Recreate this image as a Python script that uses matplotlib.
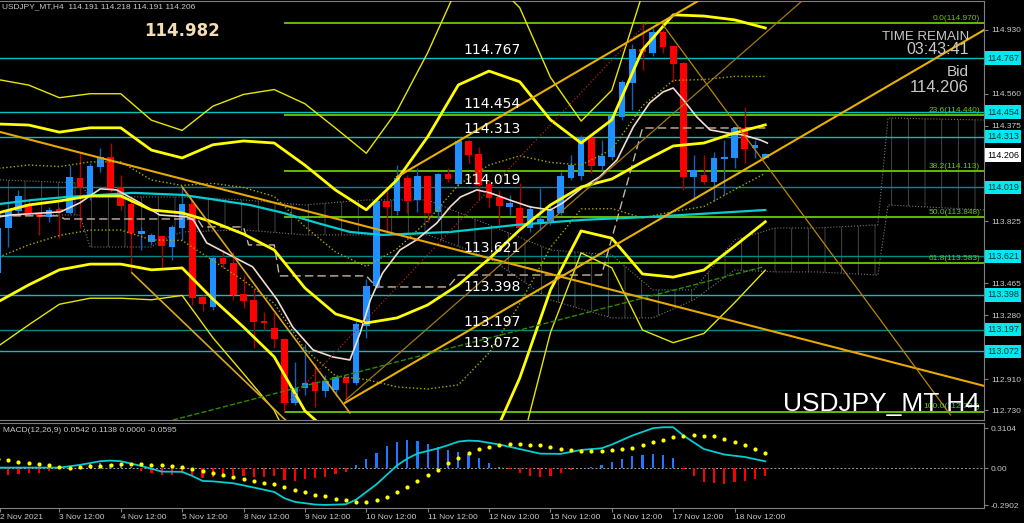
import numpy as np
import matplotlib.pyplot as plt
from matplotlib.transforms import blended_transform_factory

plt.rcParams['font.family'] = ['Liberation Sans', 'DejaVu Sans']
plt.rcParams['hatch.linewidth'] = 0.6

# ---- candles (H4 bars, 2 Nov 12:00 .. 18 Nov) ----
opens = [113.525, 113.785, 113.883, 113.918, 113.866, 113.849, 113.889, 113.872, 114.068, 113.976,
         114.138, 114.190, 114.016, 113.918, 113.750, 113.704, 113.733, 113.675, 113.785, 113.918,
         113.381, 113.329, 113.606, 113.577, 113.398, 113.363, 113.242, 113.201, 113.138, 112.774,
         112.860, 112.889, 112.843, 112.849, 112.918, 112.889, 113.219, 113.450, 113.935, 113.883,
         114.068, 113.947, 114.080, 113.878, 114.091, 114.039, 114.282, 114.207, 114.034, 113.959,
         113.907, 113.895, 113.785, 113.820, 113.826, 113.872, 114.074, 114.086, 114.300, 114.144,
         114.196, 114.427, 114.623, 114.814, 114.797, 114.912, 114.831, 114.733, 114.080, 114.086,
         114.051, 114.184, 114.190, 114.357, 114.248, 114.191]
highs = [113.802, 113.930, 114.005, 113.947, 113.878, 113.907, 113.907, 114.149, 114.219, 114.161,
         114.248, 114.276, 114.091, 113.947, 113.791, 113.756, 113.745, 113.802, 114.016, 113.947,
         113.398, 113.629, 113.658, 113.646, 113.513, 113.433, 113.300, 113.294, 113.149, 113.011,
         113.115, 113.005, 112.935, 112.930, 112.930, 113.253, 113.490, 113.959, 114.016, 114.149,
         114.091, 114.132, 114.091, 114.103, 114.132, 114.294, 114.294, 114.253, 114.063, 114.005,
         113.976, 114.045, 113.918, 114.016, 113.918, 114.109, 114.207, 114.323, 114.311, 114.294,
         114.438, 114.641, 114.849, 114.970, 114.941, 114.930, 114.843, 114.745, 114.207, 114.207,
         114.224, 114.294, 114.369, 114.485, 114.294, 114.218]
lows = [113.513, 113.675, 113.866, 113.860, 113.745, 113.820, 113.727, 113.866, 113.785, 113.947,
        114.109, 113.993, 113.889, 113.525, 113.658, 113.687, 113.554, 113.600, 113.716, 113.340,
        113.305, 113.311, 113.554, 113.369, 113.323, 113.092, 113.196, 113.092, 112.724, 112.762,
        112.820, 112.751, 112.808, 112.814, 112.791, 112.878, 113.149, 113.438, 113.756, 113.860,
        113.872, 113.878, 113.820, 113.831, 114.051, 114.028, 114.161, 113.947, 113.907, 113.802,
        113.860, 113.774, 113.762, 113.774, 113.802, 113.860, 114.063, 114.063, 114.103, 114.120,
        114.178, 114.409, 114.467, 114.698, 114.779, 114.797, 114.629, 114.005, 113.947, 114.039,
        113.941, 113.976, 114.132, 114.161, 114.190, 114.191]
closes = [113.779, 113.878, 113.964, 113.872, 113.849, 113.883, 113.878, 114.074, 114.016, 114.138,
          114.190, 114.011, 113.912, 113.756, 113.762, 113.739, 113.681, 113.785, 113.918, 113.381,
          113.346, 113.606, 113.577, 113.398, 113.363, 113.242, 113.236, 113.144, 112.774, 112.855,
          112.883, 112.843, 112.895, 112.918, 112.889, 113.224, 113.444, 113.935, 113.907, 114.068,
          113.941, 114.080, 113.872, 114.091, 114.068, 114.282, 114.207, 114.034, 113.959, 113.912,
          113.924, 113.785, 113.889, 113.831, 113.883, 114.080, 114.144, 114.300, 114.144, 114.196,
          114.427, 114.623, 114.814, 114.802, 114.912, 114.831, 114.733, 114.080, 114.115, 114.051,
          114.184, 114.190, 114.357, 114.242, 114.259, 114.206]

# ---- bollinger bands (read every 3 bars) ----
bb_x = [0, 3, 6, 9, 12, 15, 18, 21, 24, 27, 30, 33, 36, 39, 42, 45, 48, 51, 54, 57, 60, 63, 66, 69, 72, 75]
bb_mid = [113.872, 113.918, 113.941, 113.970, 113.970, 113.889, 113.872, 113.820, 113.750, 113.658, 113.438, 113.288, 113.236,
          113.265, 113.340, 113.456, 113.606, 113.774, 113.918, 114.022, 114.068, 114.167, 114.259, 114.276, 114.334, 114.381]
bb_up1 = [114.129, 114.149, 114.140, 114.167, 114.167, 114.062, 114.031, 114.043, 114.019, 113.967, 113.793, 113.646, 113.563,
          113.664, 113.826, 114.034, 114.149, 114.202, 114.164, 114.149, 114.239, 114.491, 114.638, 114.643, 114.661, 114.661]
bb_dn1 = [113.615, 113.687, 113.742, 113.773, 113.773, 113.716, 113.713, 113.597, 113.481, 113.349, 113.083, 112.930, 112.909,
          112.866, 112.854, 112.878, 113.063, 113.346, 113.672, 113.895, 113.897, 113.843, 113.880, 113.909, 114.007, 114.101]
bb_up2 = [114.386, 114.380, 114.339, 114.364, 114.364, 114.235, 114.190, 114.266, 114.288, 114.276, 114.148, 114.004, 113.890,
          114.063, 114.312, 114.612, 114.692, 114.630, 114.410, 114.276, 114.410, 114.815, 115.017, 115.010, 114.988, 114.941]
bb_dn2 = [113.358, 113.456, 113.543, 113.576, 113.576, 113.543, 113.554, 113.374, 113.212, 113.040, 112.728, 112.572, 112.582,
          112.467, 112.368, 112.300, 112.520, 112.918, 113.426, 113.768, 113.726, 113.519, 113.501, 113.542, 113.680, 113.821]
bb_up3 = [114.643, 114.611, 114.538, 114.561, 114.561, 114.408, 114.349, 114.489, 114.557, 114.585, 114.503, 114.362, 114.217,
          114.462, 114.798, 115.190, 115.235, 115.058, 114.656, 114.403, 114.581, 115.139, 115.396, 115.377, 115.315, 115.221]
bb_dn3 = [113.101, 113.225, 113.344, 113.379, 113.379, 113.370, 113.395, 113.151, 112.943, 112.731, 112.373, 112.214, 112.255,
          112.068, 111.882, 111.722, 111.977, 112.490, 113.180, 113.641, 113.555, 113.195, 113.122, 113.175, 113.353, 113.541]

# ---- moving averages ----
wma_x = [0.2, 1.2, 6.1, 8, 10, 11.6, 13.9, 15.8, 18.5, 19.1, 20.4, 23, 24.9, 27.3, 28.8, 30.8, 32.7, 34.4, 35.4, 36.4,
         37.6, 39.3, 40.9, 42.9, 44.2, 45.2, 46.8, 48.1, 50, 52, 54, 55.2, 57.2, 58.8, 60.5, 62.1, 63.7, 65, 66,
         67, 68.3, 69.6, 71.3, 72.8, 74.5, 75.2]
wma_y = [113.850, 113.860, 113.878, 113.930, 114.011, 114.005, 113.930, 113.860, 113.849, 113.831, 113.699, 113.618,
         113.560, 113.369, 113.213, 113.080, 113.040, 113.022, 113.178, 113.369, 113.525, 113.658, 113.716, 113.814,
         113.907, 113.964, 114.005, 113.988, 113.947, 113.907, 113.889, 113.930, 114.022, 114.080, 114.178, 114.369,
         114.508, 114.571, 114.594, 114.525, 114.427, 114.352, 114.334, 114.323, 114.294, 114.276]
cma_x = [0.2, 3.4, 6.7, 10, 13.2, 18.1, 21.4, 24.6, 27.9, 31.2, 34.4, 37.6, 44.2, 50.7, 57.2, 63.7, 70.3, 75]
cma_y = [113.924, 113.947, 113.964, 113.976, 113.988, 113.976, 113.947, 113.918, 113.872, 113.814, 113.762, 113.745,
         113.762, 113.803, 113.832, 113.849, 113.872, 113.889]
kij_x = [0.2, 6, 6.5, 19.5, 20, 24, 24.5, 27, 27.5, 36, 37, 44, 45, 59, 63, 75]
kij_y = [113.855, 113.855, 113.837, 113.837, 113.791, 113.791, 113.687, 113.687, 113.508, 113.508, 113.444, 113.444,
         113.513, 113.513, 114.363, 114.363]

# ---- ichimoku cloud (rough) ----
cloud_x = [0.2, 8, 9, 15, 16, 18, 24, 30, 36, 42, 48, 54, 60, 64, 68, 72, 76, 80, 86, 87, 96.4]
cloud_a = [114.063, 114.045, 113.964, 113.964, 113.964, 113.964, 113.947, 113.918, 113.947, 113.947, 113.803, 113.658,
           113.629, 113.427, 113.427, 113.716, 113.785, 113.785, 113.803, 114.421, 114.409]
cloud_b = [113.860, 113.860, 113.675, 113.675, 113.716, 113.762, 113.774, 113.745, 113.745, 113.745, 113.612, 113.369,
           113.265, 113.265, 113.369, 113.542, 113.531, 113.531, 113.513, 113.918, 113.889]

# ---- levels ----
levels = [114.767, 114.454, 114.313, 114.019, 113.621, 113.398, 113.197, 113.072]
level_dark = [False, False, False, True, True, False, True, False]
fib_pct = ['0.0', '23.6', '38.2', '50.0', '61.8', '100.0']
fib_vals = [114.970, 114.440, 114.113, 113.848, 113.583, 112.724]
right_ticks = [114.930, 114.745, 114.560, 114.375, 114.190, 114.005, 113.825, 113.645, 113.465, 113.280, 113.095,
               112.910, 112.730]

# trend lines: (bar0, price0, bar1, price1, color, width, style)
trends = [
    (0.2, 114.340, 96.4, 112.872, '#E8A800', 1.5, '-'),
    (33.9, 112.774, 96.4, 114.930, '#E8B000', 1.5, '-'),
    (39.0, 114.080, 68.6, 115.103, '#E8B000', 1.5, '-'),
    (65.0, 114.959, 93.1, 112.704, '#B8860B', 0.9, '-'),
    (34.0, 112.791, 78.7, 115.103, '#A07818', 0.9, '-'),
    (18.0, 114.022, 34.4, 112.716, '#DAA520', 1.2, '-'),
    (13.1, 113.525, 28.1, 112.675, '#DAA520', 1.2, '-'),
    (17.1, 112.675, 74.8, 113.560, '#2E8B00', 1.0, '--'),
    (28.1, 112.762, 63.7, 114.987, '#B22222', 0.9, ':'),
]

# ---- MACD ----
hist = [-0.060, -0.055, -0.044, -0.039, -0.034, -0.021, -0.005, 0.005, 0.018, 0.034,
        0.044, 0.034, 0.026, 0.013, -0.021, -0.039, -0.052, -0.052, -0.034, -0.060,
        -0.078, -0.065, -0.060, -0.052, -0.060, -0.070, -0.065, -0.060, -0.091, -0.099,
        -0.086, -0.078, -0.070, -0.047, -0.026, 0.026, 0.073, 0.117, 0.170, 0.205,
        0.221, 0.216, 0.190, 0.165, 0.143, 0.130, 0.110, 0.078, 0.044, 0.013,
        -0.008, -0.040, -0.060, -0.065, -0.060, -0.039, -0.013, 0.005, 0.013, 0.026,
        0.047, 0.070, 0.096, 0.104, 0.112, 0.104, 0.078, -0.003, -0.060, -0.104,
        -0.117, -0.122, -0.104, -0.099, -0.083, -0.060]
signal = [0.072, 0.065, 0.052, 0.044, 0.034, 0.023, 0.008, 0.005, 0.010, 0.016,
          0.021, 0.026, 0.034, 0.034, 0.034, 0.029, 0.023, 0.018, 0.010, -0.003,
          -0.021, -0.034, -0.049, -0.065, -0.083, -0.096, -0.112, -0.125, -0.146, -0.166,
          -0.185, -0.205, -0.218, -0.239, -0.250, -0.260, -0.260, -0.244, -0.221, -0.185,
          -0.146, -0.101, -0.055, -0.010, 0.042, 0.081, 0.120, 0.148, 0.166, 0.182,
          0.190, 0.190, 0.185, 0.179, 0.169, 0.153, 0.143, 0.138, 0.133, 0.135,
          0.140, 0.148, 0.159, 0.179, 0.203, 0.221, 0.244, 0.255, 0.260, 0.255,
          0.250, 0.229, 0.208, 0.180, 0.150, 0.118]
macd_x = [0, 6, 8, 10, 11, 12, 14, 16, 18, 19, 20, 21, 23, 25, 27, 28, 29, 31, 32, 34, 35, 36, 37, 39, 40, 41, 42, 43,
          44, 45, 46, 47, 49, 51, 53, 55, 57, 59, 60, 62, 64, 65, 66, 67, 69, 71, 73, 75]
macd_v = [0.005, 0.005, 0.026, 0.055, 0.060, 0.055, 0.018, -0.026, -0.028, -0.060, -0.099, -0.102, -0.117, -0.150,
          -0.185, -0.234, -0.262, -0.283, -0.286, -0.281, -0.245, -0.185, -0.125, 0.022, 0.075, 0.115, 0.135, 0.155,
          0.180, 0.208, 0.216, 0.212, 0.185, 0.150, 0.114, 0.112, 0.143, 0.156, 0.185, 0.255, 0.312, 0.320, 0.320,
          0.255, 0.150, 0.107, 0.088, 0.054]

date_ticks = [0.2, 6, 12, 18, 24, 30, 36, 42, 48, 54, 60, 66, 72]
date_labels = ['2 Nov 2021', '3 Nov 12:00', '4 Nov 12:00', '5 Nov 12:00', '8 Nov 12:00', '9 Nov 12:00',
               '10 Nov 12:00', '11 Nov 12:00', '12 Nov 12:00', '15 Nov 12:00', '16 Nov 12:00',
               '17 Nov 12:00', '18 Nov 12:00']

GRAY = '#C8C8C8'
W, H = 1024, 523

fig = plt.figure(figsize=(W / 100, H / 100), dpi=100, facecolor='black')
ax = fig.add_axes([0, 1 - 420 / H, 984 / W, 419 / H], facecolor='black')
mx = fig.add_axes([0, 1 - 508 / H, 984 / W, 85 / H], facecolor='black', sharex=ax)

bars = np.arange(len(opens))
xmin, xmax = 0.196, 96.38

# cloud
ax.fill_between(cloud_x, cloud_a, cloud_b, facecolor='none', edgecolor='#505050', hatch='|', linewidth=0, zorder=1)
ax.plot(cloud_x, cloud_a, color='#777777', lw=0.8, ls=':', zorder=1)
ax.plot(cloud_x, cloud_b, color='#777777', lw=0.8, ls=':', zorder=1)

# horizontal levels
for lv, dark in zip(levels, level_dark):
    ax.axhline(lv, color='#008B8B' if dark else '#00C0C0', lw=1.0, zorder=2)
    ax.text(45.45, lv + 0.046, f'{lv:.3f}', color='white', fontsize=10, va='center', ha='left',
            family=['DejaVu Sans'], zorder=6)

# fibonacci
ax.hlines(fib_vals, 28.0, xmax, color='#6CC800', lw=1.3, zorder=2)
for pct, fv in zip(fib_pct, fib_vals):
    ax.text(96.0, fv + 0.006, f'{pct}({fv:.3f})', color='#6CC800', fontsize=6, ha='right', va='bottom', zorder=6)

# candles
up = [c >= o for o, c in zip(opens, closes)]
body_col = ['#1E90FF' if u else '#FF0000' for u in up]
wick_col = ['#1A5FB4' if u else '#B00000' for u in up]
ax.vlines(bars, lows, highs, colors=wick_col, lw=1.0, zorder=3)
ax.bar(bars, [abs(c - o) + 0.004 for o, c in zip(opens, closes)], bottom=[min(o, c) for o, c in zip(opens, closes)],
       width=0.65, color=body_col, zorder=3)

# indicators
ax.plot(cma_x, cma_y, color='#00CED1', lw=1.6, zorder=4)
ax.plot(kij_x, kij_y, color='#C8B4A0', lw=1.0, ls=(0, (6, 3)), zorder=4)
ax.plot(wma_x, wma_y, color='#F0DCD0', lw=1.2, zorder=4)
ax.plot(bb_x, bb_up1, color='#A8A800', lw=1.0, ls=':', zorder=4)
ax.plot(bb_x, bb_dn1, color='#A8A800', lw=1.0, ls=':', zorder=4)
ax.plot(bb_x, bb_up3, color='#E6E600', lw=1.0, zorder=4)
ax.plot(bb_x, bb_dn3, color='#E6E600', lw=1.0, zorder=4)
for band in (bb_up2, bb_mid, bb_dn2):
    ax.plot(bb_x, band, color='#FFFF00', lw=2.0, zorder=4)
for b0, p0, b1, p1, col, lw, ls in trends:
    ax.plot([b0, b1], [p0, p1], color=col, lw=lw, ls=ls, zorder=4)

ax.set_xlim(xmin, xmax)
ax.set_ylim(112.675, 115.097)

# right price axis
ax.yaxis.tick_right()
ax.set_yticks(right_ticks)
ax.set_yticklabels([f'{t:.3f}' for t in right_ticks])
ax.tick_params(axis='y', colors='#808080', labelcolor=GRAY, labelsize=6, length=3, pad=2)
ax.tick_params(axis='x', length=0, labelbottom=False)
for sp in ax.spines.values():
    sp.set_color('#808080')
    sp.set_linewidth(0.8)
ax.spines['left'].set_visible(False)

trans = blended_transform_factory(ax.transAxes, ax.transData)
for lv in levels:
    ax.text(1.003, lv, f'{lv:.3f}', transform=trans, fontsize=6.5, color='#003838', va='center', ha='left',
            bbox=dict(boxstyle='square,pad=0.25', fc='#00E8F0', ec='none'), zorder=10)
ax.text(1.003, closes[-1], f'{closes[-1]:.3f}', transform=trans, fontsize=6.5, color='black', va='center', ha='left',
        bbox=dict(boxstyle='square,pad=0.25', fc='white', ec='none'), zorder=10)

# MACD panel
hcol = ['#1E78FF' if h > 0 else '#FF0000' for h in hist]
mx.bar(bars, hist, width=0.22, color=hcol, zorder=2)
mx.axhline(0, color='#A0A0A0', lw=0.7, ls=(0, (2, 2)), zorder=1)
mx.plot(macd_x, macd_v, color='#00CED1', lw=1.3, zorder=3)
mx.scatter(bars, signal, s=9, color='#FFFF00', zorder=4, linewidths=0)
mx.set_ylim(-0.310, 0.353)
mx.set_xlim(xmin, xmax)
mx.yaxis.tick_right()
mx.set_yticks([0.3104, 0.0, -0.2902])
mx.set_yticklabels(['0.3104', '0.00', '-0.2902'])
mx.tick_params(axis='y', colors='#808080', labelcolor=GRAY, labelsize=6, length=3, pad=2)
mx.set_xticks(date_ticks)
mx.set_xticklabels(date_labels)
mx.tick_params(axis='x', colors='#808080', labelcolor=GRAY, labelsize=6, length=3, pad=1.5)
for lab in mx.get_xticklabels():
    lab.set_ha('left')
for sp in mx.spines.values():
    sp.set_color('#808080')
    sp.set_linewidth(0.8)
mx.spines['left'].set_visible(False)

# texts
def fx(px):
    return px / W


def fy(py):
    return 1 - py / H


fig.text(fx(2), fy(7), 'USDJPY_MT,H4  114.191 114.218 114.191 114.206', color=GRAY, fontsize=6, va='center')
fig.text(fx(182), fy(31), '114.982', color='#F5DEB3', fontsize=12, fontweight='bold', va='center', ha='center',
         family=['DejaVu Sans'])
fig.text(fx(969), fy(37), 'TIME REMAIN', color=GRAY, fontsize=9.5, va='center', ha='right')
fig.text(fx(969), fy(50), '03:43:41', color=GRAY, fontsize=11.5, va='center', ha='right')
fig.text(fx(969), fy(72), 'Bid', color=GRAY, fontsize=11, va='center', ha='right')
fig.text(fx(969), fy(87), '114.206', color=GRAY, fontsize=12, va='center', ha='right')
fig.text(fx(980), fy(404), 'USDJPY_MT H4', color='white', fontsize=19, va='center', ha='right')
fig.text(fx(3), fy(430), 'MACD(12,26,9) 0.0542 0.1138 0.0000 -0.0595', color=GRAY, fontsize=6, va='center')

fig.savefig('out.png', dpi=100, facecolor='black')
